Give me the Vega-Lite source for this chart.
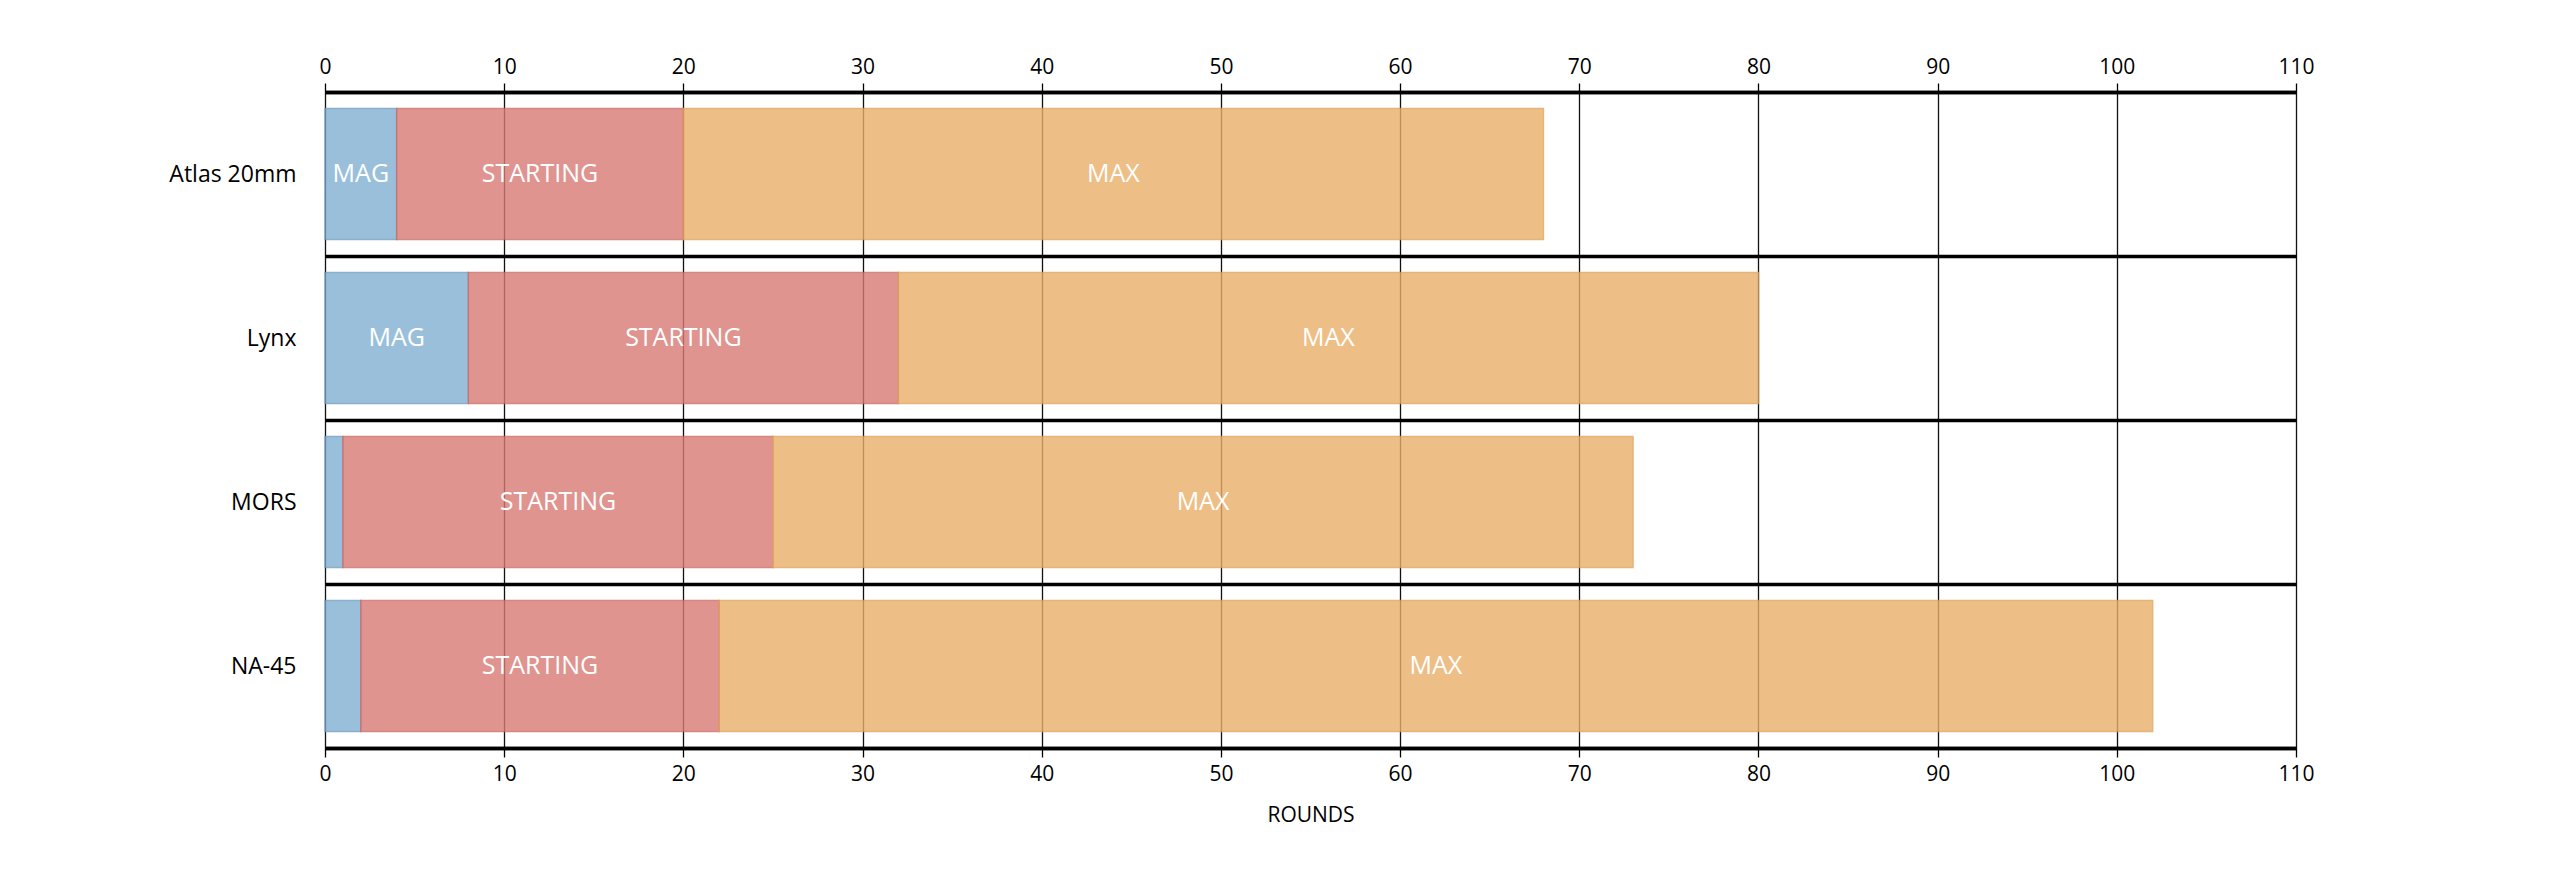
{
  "$schema": "https://vega.github.io/schema/vega-lite/v6.json",
  "width": 1971,
  "height": 656,
  "autosize": {"type": "none"},
  "padding": {"left": 325, "top": 92, "right": 254, "bottom": 125},
  "background": "white",
  "config": {"view": {"stroke": null}, "font": "Open Sans"},
  "data": {
    "values": [
      {"gun": "Atlas 20mm", "segment": "MAG", "start": 0, "end": 4, "label": "MAG"},
      {"gun": "Atlas 20mm", "segment": "STARTING", "start": 4, "end": 20, "label": "STARTING"},
      {"gun": "Atlas 20mm", "segment": "MAX", "start": 20, "end": 68, "label": "MAX"},
      {"gun": "Lynx", "segment": "MAG", "start": 0, "end": 8, "label": "MAG"},
      {"gun": "Lynx", "segment": "STARTING", "start": 8, "end": 32, "label": "STARTING"},
      {"gun": "Lynx", "segment": "MAX", "start": 32, "end": 80, "label": "MAX"},
      {"gun": "MORS", "segment": "MAG", "start": 0, "end": 1, "label": ""},
      {"gun": "MORS", "segment": "STARTING", "start": 1, "end": 25, "label": "STARTING"},
      {"gun": "MORS", "segment": "MAX", "start": 25, "end": 73, "label": "MAX"},
      {"gun": "NA-45", "segment": "MAG", "start": 0, "end": 2, "label": ""},
      {"gun": "NA-45", "segment": "STARTING", "start": 2, "end": 22, "label": "STARTING"},
      {"gun": "NA-45", "segment": "MAX", "start": 22, "end": 102, "label": "MAX"}
    ]
  },
  "encoding": {
    "y": {
      "field": "gun",
      "type": "nominal",
      "sort": ["Atlas 20mm", "Lynx", "MORS", "NA-45"],
      "scale": {"paddingInner": 0, "paddingOuter": 0},
      "title": null,
      "axis": {
        "tickBand": "extent",
        "grid": true,
        "gridColor": "#000000",
        "gridWidth": 3.5,
        "gridOpacity": 1,
        "ticks": false,
        "domain": false,
        "labelFont": "Open Sans",
        "labelFontSize": 23,
        "labelColor": "#000000",
        "labelPadding": 29
      }
    }
  },
  "layer": [
    {
      "mark": {"type": "bar", "opacity": 0.8, "strokeWidth": 1.5, "height": {"band": 0.8}},
      "encoding": {
        "x": {
          "field": "start",
          "type": "quantitative",
          "scale": {"domain": [0, 110], "nice": false},
          "title": "ROUNDS",
          "axis": {
            "orient": "bottom",
            "values": [0, 10, 20, 30, 40, 50, 60, 70, 80, 90, 100, 110],
            "grid": true,
            "gridColor": "#111111",
            "gridWidth": 1.3,
            "gridOpacity": 1,
            "domainColor": "#000000",
            "domainWidth": 3.5,
            "tickColor": "#000000",
            "tickSize": 9,
            "tickWidth": 1.3,
            "labelFlush": false,
            "labelFont": "Open Sans",
            "labelFontSize": 21,
            "labelColor": "#000000",
            "labelPadding": 6,
            "titleFont": "Open Sans",
            "titleFontSize": 21,
            "titleFontWeight": "normal",
            "titleColor": "#000000",
            "titlePadding": 20
          }
        },
        "x2": {"field": "end"},
        "color": {
          "field": "segment",
          "type": "nominal",
          "scale": {"domain": ["MAG", "STARTING", "MAX"], "range": ["#82B0D3", "#D87A74", "#E9AF69"]},
          "legend": null
        },
        "stroke": {
          "field": "segment",
          "type": "nominal",
          "scale": {"domain": ["MAG", "STARTING", "MAX"], "range": ["#6F9DC2", "#CC6A64", "#DFA25A"]},
          "legend": null
        }
      }
    },
    {
      "transform": [
        {"fold": ["start", "end"], "as": ["edge", "pos"]},
        {"aggregate": [{"op": "mean", "field": "pos", "as": "mid"}], "groupby": ["gun", "segment", "label"]}
      ],
      "mark": {"type": "text", "color": "white", "fontSize": 25, "font": "Open Sans", "baseline": "middle", "align": "center"},
      "encoding": {
        "x": {
          "field": "mid",
          "type": "quantitative",
          "scale": {"domain": [0, 110], "nice": false},
          "title": null,
          "axis": {
            "orient": "top",
            "values": [0, 10, 20, 30, 40, 50, 60, 70, 80, 90, 100, 110],
            "grid": false,
            "domainColor": "#000000",
            "domainWidth": 3.5,
            "tickColor": "#000000",
            "tickSize": 9,
            "tickWidth": 1.3,
            "labelFlush": false,
            "labelFont": "Open Sans",
            "labelFontSize": 21,
            "labelColor": "#000000",
            "labelPadding": 6
          }
        },
        "text": {"field": "label"}
      }
    }
  ],
  "resolve": {"axis": {"x": "independent"}}
}
